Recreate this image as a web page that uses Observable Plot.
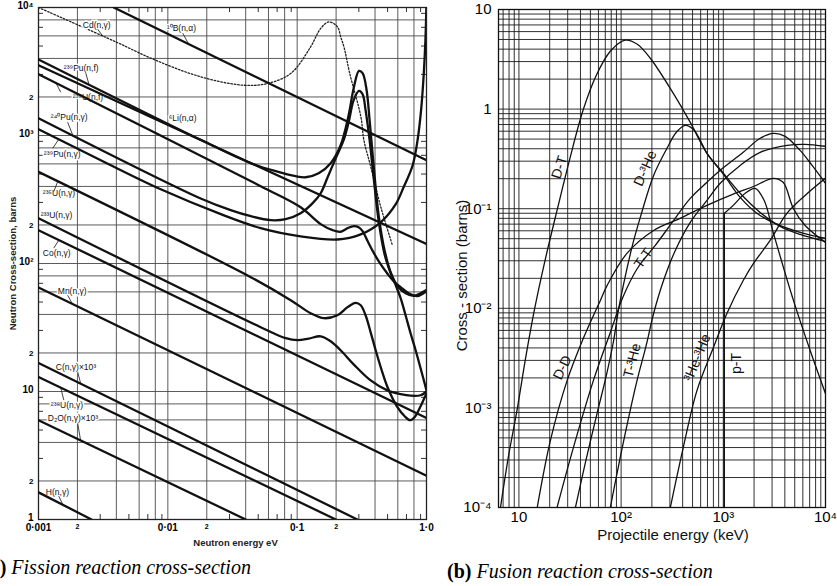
<!DOCTYPE html>
<html><head><meta charset="utf-8">
<script src="https://cdn.jsdelivr.net/npm/d3@7"></script>
<script src="https://cdn.jsdelivr.net/npm/@observablehq/plot@0.6"></script>
<style>
body{margin:0;background:#fff;}
#wrap{position:relative;width:837px;height:586px;overflow:hidden;background:#fff;}
#left{position:absolute;left:0;top:0;}
#right{position:absolute;left:430px;top:0;}
.cap{position:absolute;font-family:"Liberation Serif",serif;font-size:20px;white-space:nowrap;line-height:1;color:#000;}
.cap i{font-style:italic}
</style></head><body>
<div id="wrap"><div id="left"></div><div id="right"></div>
<div class="cap" style="left:-17px;top:557px"><b>(a)</b> <i>Fission reaction cross-section</i></div>
<div class="cap" style="left:447px;top:561px"><b>(b)</b> <i>Fusion reaction cross-section</i></div>
</div>
<script>
// ---------- (a) Fission: neutron energy (eV) vs cross-section (barns) ----------
const B10   = [[0.00382, 10000], [1, 640]];
const Li6   = [[0.001, 3540], [1, 142]];
const Co59  = [[0.001, 182], [1, 6.2]];
const Mn55  = [[0.001, 64.9], [1, 2.2]];
const Cx1e3 = [[0.001, 16.7], [0.292, 1]];
const U238g = [[0.001, 13.0], [0.199, 1]];
const D2Ox1e3 = [[0.001, 5.97], [0.040, 1]];
const H1    = [[0.001, 1.63], [0.00257, 1]];
const Pu239f = [[0.001,3930],[0.01795,925],[0.0438,608],[0.0682,526],[0.0973,481],[0.1164,472],[0.1466,507],[0.1816,608],[0.2168,840],[0.250,1442],[0.2735,2343],[0.3006,3197],[0.3206,3067],[0.3443,2259],[0.3631,1318],[0.390,586],[0.4266,238],[0.474,127],[0.528,85.5],[0.598,66.5],[0.689,58.6],[0.794,56.0],[0.90,58.6],[1,62]];
const Pu240g = [[0.001,1365],[0.01795,322],[0.0306,261],[0.0438,234],[0.0624,218],[0.0815,222],[0.1064,247],[0.1318,296],[0.152,354],[0.172,472],[0.1987,665],[0.2286,919],[0.250,1270],[0.2735,1888],[0.3006,2230],[0.3206,2101],[0.338,1577],[0.3631,919],[0.390,470],[0.4266,215],[0.474,118],[0.528,84],[0.577,68],[0.631,53.6],[0.689,39.4],[0.753,28.5],[0.824,21.0],[0.90,15.2],[1,10.2]];
const Pu239g = [[0.001,1120],[0.00303,641],[0.00881,380],[0.0257,243],[0.0522,189],[0.1064,163],[0.2046,154],[0.310,169],[0.4416,210],[0.577,290],[0.665,394],[0.782,586],[0.853,919],[0.908,1577],[0.951,2958],[0.981,5555],[0.998,10000]];
const U235f = [[0.001,3013],[0.0522,402],[0.1064,275],[0.152,203],[0.188,182],[0.2168,177],[0.2455,189],[0.2748,196],[0.2985,192],[0.3206,179],[0.351,149],[0.393,120],[0.4416,98.8],[0.498,83.6],[0.557,72.7],[0.631,65.3],[0.728,58.6],[0.849,55.6],[1,60.8]];
const U235g = [[0.001,520],[0.0438,78.2],[0.0891,51.7],[0.127,40.9],[0.161,37.4],[0.2046,39.4],[0.2455,45.6],[0.283,49.2],[0.310,47.2],[0.338,39.4],[0.370,29.0],[0.4046,21.0],[0.450,14.7],[0.498,10.9],[0.594,7.59],[0.678,6.41],[0.745,5.97],[0.809,6.30],[0.90,7.68],[1,9.70]];
const U233g = [[0.001,226],[0.0522,31.8],[0.0815,26.1],[0.101,25.2],[0.1228,25.9],[0.152,27.0],[0.1816,24.7],[0.2168,21.0],[0.2735,16.3],[0.370,12.2],[0.498,10.2],[0.631,9.53],[0.753,9.27],[0.90,9.35],[1,10.0]];
const Cd    = [[0.001,10000],[0.00396,5390],[0.0078,3925],[0.018,2870],[0.0387,2470],[0.0589,2550],[0.0891,3050],[0.127,4920],[0.152,6860],[0.176,7720],[0.205,7050],[0.217,5890],[0.230,4920],[0.255,3050],[0.311,1397],[0.328,919],[0.371,569],[0.443,277],[0.545,139]];

const fissionLabelText = ["Cd(n,γ)","¹⁰B(n,α)","²³⁹Pu(n,f)","²³⁵U(n,f)","⁶Li(n,α)","²⁴⁰Pu(n,γ)","²³⁹Pu(n,γ)","²³⁵U(n,γ)","²³³U(n,γ)","Co(n,γ)","Mn(n,γ)","C(n,γ)×10³","²³⁸U(n,γ)","D₂O(n,γ)×10³","H(n,γ)"];
const fissionLabelE    = [0.0022,0.00982,0.00157,0.00184,0.01017,0.001245,0.0011,0.00108,0.00104,0.00108,0.00141,0.00136,0.001245,0.00118,0.00114];
const fissionLabelS    = [7275,6855,3337,2003,1358,1382,714,352,238,120,61.1,15.4,7.82,6.18,1.63];
// leader lines from labels to curves: [E1, s1, E2, s2]
const fissionLeaders = [[0.00287,6761,0.00314,5970],[0.01303,6297,0.01451,5165],[0.00232,3069,0.00245,2530],[0.001486,2178,0.00136,2584],[0.00168,1270,0.00184,1006],[0.00129,796,0.001435,935],[0.001313,365,0.00141,438],[0.001313,132,0.001435,152],[0.00168,56.5,0.00184,47.9],[0.00201,14.2,0.00212,11.5],[0.00157,8.56,0.001486,10.7],[0.00201,5.65,0.00212,4.10],[0.001435,1.52,0.00154,1.31]];

const fissionXTicks = [0.001, 0.01, 0.1, 1];
const fissionXTickLabels = ["0·001", "0·01", "0·1", "1·0"];
const fissionYTicks = [1, 10, 100, 1000, 10000];
const fissionYTickLabels = ["1", "10", "10²", "10³", "10⁴"];

// ---------- (b) Fusion: projectile energy (keV) vs cross-section (barns) ----------
const DT   = [[6.6,0.0001],[7.89,0.000324],[9.6,0.000962],[11.6,0.00313],[14.2,0.00973],[18.2,0.0317],[23.6,0.0962],[31.2,0.306],[42.4,0.973],[57.2,2.19],[78.4,3.81],[110,4.92],[144,4.48],[193,3.24],[324,1.44],[475,0.736],[692,0.360],[1005,0.226],[1462,0.143],[2294,0.0918],[3597,0.0664],[5646,0.0552],[10000,0.0469]];
const DHe3 = [[35.7,0.0001],[44.7,0.000282],[58.1,0.000877],[71.6,0.00211],[84.5,0.00475],[94.0,0.00951],[105,0.0169],[129,0.0428],[154,0.0818],[208,0.216],[281,0.404],[347,0.585],[424,0.687],[508,0.627],[594,0.486],[692,0.360],[1005,0.221],[1462,0.130],[2145,0.0897],[3213,0.0711],[5646,0.0578],[10000,0.0504]];
const DD   = [[15.1,0.0001],[20.3,0.000469],[29.6,0.00188],[43.0,0.00509],[62.6,0.0120],[72.8,0.0169],[114,0.0356],[208,0.0605],[379,0.080],[692,0.108],[1250,0.140],[1974,0.167],[3097,0.202],[3849,0.184],[4856,0.100],[6322,0.0679],[10000,0.0458]];
const TT   = [[23.6,0.0001],[34.1,0.000399],[53.5,0.00188],[78.4,0.00572],[105,0.0132],[144,0.0251],[216,0.0428],[316,0.0728],[475,0.127],[692,0.184],[933,0.243],[1566,0.368],[2294,0.509],[3097,0.571],[4030,0.533],[5646,0.385],[7396,0.272],[10000,0.180]];
const THe3 = [[78.4,0.0001],[106,0.000469],[143,0.00188],[176,0.00424],[208,0.00887],[260,0.0190],[339,0.0381],[475,0.0728],[692,0.121],[933,0.180],[1462,0.272],[2294,0.368],[4217,0.433],[6322,0.443],[10000,0.423]];
const He3He3 = [[303,0.0001],[406,0.000402],[552,0.00149],[802,0.00406],[1084,0.00887],[1566,0.0190],[1974,0.0282],[2872,0.0480],[4188,0.0897],[6322,0.136],[10000,0.202]];
const pTrise = [[1020,0.0001],[1020,0.0897]];
const pT   = [[1020,0.0897],[1250,0.108],[1638,0.143],[2050,0.160],[2512,0.121],[3097,0.0565],[4856,0.0120],[7080,0.00377],[10000,0.00139]];

const fusionLabelText = ["D-T","D-³He","T-T","D-D","T-³He","³He-³He","p-T"];
const fusionLabelE    = [24.9,172.6,165,26.6,128.5,556,1337];
const fusionLabelS    = [0.260,0.254,0.0317,0.00254,0.00299,0.00320,0.00279];

const fusionXTicks = [10, 100, 1000, 10000];
const fusionXTickLabels = ["10", "10²", "10³", "10⁴"];
const fusionYTicks = [1e-4, 1e-3, 1e-2, 0.1, 1, 10];
const fusionYTickLabels = ["10⁻⁴", "10⁻³", "10⁻²", "10⁻¹", "1", "10"];

// ---------- helpers ----------
const lab = (ticks, labels) => d => { const i = ticks.findIndex(t => Math.abs(Math.log10(t) - Math.log10(d)) < 1e-6); return i >= 0 ? labels[i] : ""; };
const logTicks = (lo, hi, mults) => { const out = []; for (let e = Math.floor(Math.log10(lo)) - 1; e <= Math.ceil(Math.log10(hi)); e++) for (const m of mults) { const v = m * Math.pow(10, e); if (v >= lo * 0.9999 && v <= hi * 1.0001) out.push(+v.toPrecision(6)); } return out; };
const mantissa = d => String(Math.round(d / Math.pow(10, Math.floor(Math.log10(d) + 1e-9))));
const toTable = (obj) => Object.entries(obj).flatMap(([s, pts]) => pts.map(([x, y]) => ({s, x, y})));
const FONT = "Liberation Sans, Arial, sans-serif";

// ---------- left plot ----------
const LW = 430, LH = 550, LmL = 38, LmT = 7, LmR = 4, LmB = 31;
const LpW = LW - LmL - LmR, LpH = LH - LmT - LmB;
const Lx = [0.001, 1], Ly = [1, 10000];
const leftSolid = toTable({B10, Li6, Co59, Mn55, Cx1e3, U238g, D2Ox1e3, H1, Pu239f, Pu240g, Pu239g, U235f, U235g, U233g});
const leftLabels = fissionLabelText.map((t, i) => ({t, x: fissionLabelE[i], y: fissionLabelS[i]}));
const leftLeaders = fissionLeaders.map(([x1, y1, x2, y2]) => ({x1, y1, x2, y2}));
const gridStroke = "#4a4a4a";

const left = Plot.plot({
  width: LW, height: LH, marginLeft: LmL, marginTop: LmT, marginRight: LmR, marginBottom: LmB,
  style: {fontFamily: FONT, background: "transparent", overflow: "visible"},
  x: {type: "log", domain: Lx},
  y: {type: "log", domain: Ly},
  marks: [
    Plot.ruleX(logTicks(Lx[0], Lx[1], [1, 2, 4, 6, 8]), {stroke: gridStroke, strokeWidth: 0.9}),
    Plot.ruleY(logTicks(Ly[0], Ly[1], [1, 2, 4, 6, 8]), {stroke: gridStroke, strokeWidth: 0.9}),
    Plot.ruleX(logTicks(Lx[0], Lx[1], [3, 5, 7, 9]), {insetTop: LpH - 5, stroke: "#333"}),
    Plot.ruleX(logTicks(Lx[0], Lx[1], [3, 5, 7, 9]), {insetBottom: LpH - 5, stroke: "#333"}),
    Plot.ruleY(logTicks(Ly[0], Ly[1], [3, 5, 7, 9]), {insetRight: LpW - 5, stroke: "#333"}),
    Plot.ruleY(logTicks(Ly[0], Ly[1], [3, 5, 7, 9]), {insetLeft: LpW - 5, stroke: "#333"}),
    Plot.frame({stroke: "#222", strokeWidth: 1.3}),
    Plot.line(Cd, {x: d => d[0], y: d => d[1], stroke: "#222", strokeWidth: 1.3, strokeDasharray: "1.6,1.8", curve: "catmull-rom", clip: true}),
    Plot.text(leftLabels, {x: "x", y: "y", text: "t", textAnchor: "start", fontSize: 8.5, fill: "#111", stroke: "white", strokeWidth: 3}),
    Plot.line(leftSolid, {x: "x", y: "y", z: "s", stroke: "#111", strokeWidth: 2.3, curve: "catmull-rom", clip: true}),
    Plot.link(leftLeaders, {x1: "x1", y1: "y1", x2: "x2", y2: "y2", stroke: "#111", strokeWidth: 0.8}),
    Plot.axisX({ticks: fissionXTicks, tickFormat: lab(fissionXTicks, fissionXTickLabels), tickSize: 0, tickPadding: 4, fontSize: 10, fontWeight: "bold", label: null}),
    Plot.axisX({ticks: logTicks(Lx[0], Lx[1], [2, 4, 6, 8]), tickFormat: mantissa, tickSize: 0, tickPadding: 5, fontSize: 7, fontWeight: "bold", label: null}),
    Plot.axisY({ticks: fissionYTicks, tickFormat: lab(fissionYTicks, fissionYTickLabels), tickSize: 0, tickPadding: 5, dy: -1.5, fontSize: 10, fontWeight: "bold", label: null}),
    Plot.axisY({ticks: logTicks(Ly[0], Ly[1], [2, 4, 6, 8]), tickFormat: mantissa, tickSize: 0, tickPadding: 5, fontSize: 8, fontWeight: "bold", label: null}),
    Plot.text(["Neutron energy eV"], {text: d => d, frameAnchor: "bottom", textAnchor: "middle", lineAnchor: "middle", dx: 3, dy: 23, fontSize: 9.5, fontWeight: "bold", fill: "#222"}),
    Plot.text(["Neutron Cross-section, barns"], {text: d => d, frameAnchor: "left", textAnchor: "middle", lineAnchor: "middle", rotate: -90, dx: -26, dy: 0, fontSize: 9.5, fontWeight: "bold", fill: "#222"})
  ]
});
document.getElementById("left").appendChild(left);

// ---------- right plot ----------
const RW = 407, RH = 545, RmL = 68, RmT = 9, RmR = 12, RmB = 38;
const Rx = [6.31, 10000], Ry = [1e-4, 10];
const rightMain = toTable({DT, DHe3, DD, TT, THe3, He3He3, pT});
const labelRotation = {"D-T": -72, "D-³He": -66, "T-T": -55, "D-D": -64, "T-³He": -76, "³He-³He": -68, "p-T": -90};
const rightLabels = fusionLabelText.map((t, i) => ({t, x: fusionLabelE[i], y: fusionLabelS[i], r: labelRotation[t]}));

const right = Plot.plot({
  width: RW, height: RH, marginLeft: RmL, marginTop: RmT, marginRight: RmR, marginBottom: RmB,
  style: {fontFamily: FONT, background: "transparent", overflow: "visible"},
  x: {type: "log", domain: Rx},
  y: {type: "log", domain: Ry},
  marks: [
    Plot.ruleX(logTicks(Rx[0], Rx[1], [1, 2, 3, 4, 5, 6, 7, 8, 9]), {stroke: "#1a1a1a", strokeWidth: 0.9}),
    Plot.ruleY(logTicks(Ry[0], Ry[1], [1, 2, 3, 4, 5, 6, 7, 8, 9]), {stroke: "#1a1a1a", strokeWidth: 0.9}),
    Plot.frame({stroke: "#111", strokeWidth: 1.3}),
    Plot.line(rightMain, {x: "x", y: "y", z: "s", stroke: "#111", strokeWidth: 1.3, curve: "catmull-rom", clip: true}),
    Plot.line(pTrise, {x: d => d[0], y: d => d[1], stroke: "#111", strokeWidth: 1.6}),
    Plot.text(rightLabels, {x: "x", y: "y", text: "t", rotate: "r", fontSize: 14, fill: "#111"}),
    Plot.axisX({ticks: fusionXTicks, tickFormat: lab(fusionXTicks, fusionXTickLabels), tickSize: 0, tickPadding: 4, fontSize: 15, label: null}),
    Plot.axisY({ticks: fusionYTicks, tickFormat: lab(fusionYTicks, fusionYTickLabels), tickSize: 0, tickPadding: 7, fontSize: 15, label: null}),
    Plot.text(["Projectile energy (keV)"], {text: d => d, frameAnchor: "bottom", textAnchor: "middle", lineAnchor: "middle", dx: 11, dy: 28, fontSize: 15, fill: "#111"}),
    Plot.text(["Cross - section (barns)"], {text: d => d, frameAnchor: "left", textAnchor: "middle", lineAnchor: "middle", rotate: -90, dx: -36, dy: 17, fontSize: 15, fill: "#111"})
  ]
});
document.getElementById("right").appendChild(right);
</script>
</body></html>
